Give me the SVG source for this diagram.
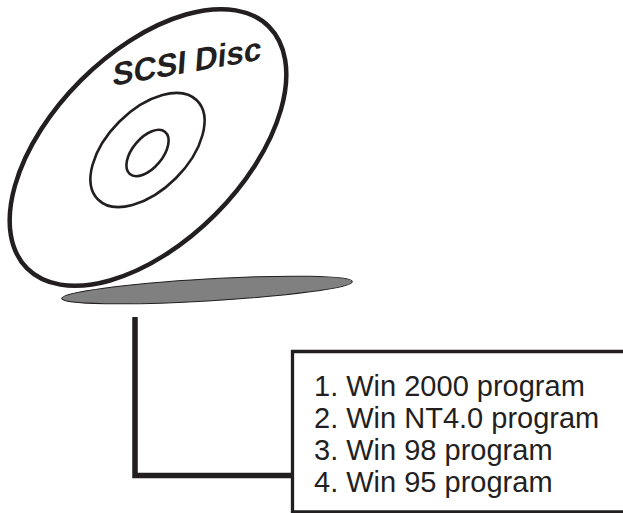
<svg xmlns="http://www.w3.org/2000/svg" width="623" height="513" viewBox="0 0 623 513">
  <style>
    .ink { fill: none; stroke: #231f20; }
    .label { font-family: "Liberation Sans", Arial, sans-serif; font-size: 29px; fill: #231f20; }
    .title { font-family: "Liberation Sans", Arial, sans-serif; font-size: 32px; font-weight: bold; fill: #231f20; }
  </style>
  <rect width="623" height="513" fill="#ffffff"/>

  <!-- shadow under the disc -->
  <g id="shadow">
    <ellipse cx="207" cy="290" rx="145.5" ry="11" transform="rotate(-3.3 207 290)" fill="#808080" stroke="#231f20" stroke-width="1"/>
  </g>

  <!-- the disc -->
  <g id="disc">
    <ellipse cx="148" cy="147.5" rx="171" ry="95" transform="rotate(-45 148 147.5)" fill="#ffffff" stroke="#231f20" stroke-width="4.5"/>
    <ellipse cx="147.5" cy="150" rx="70" ry="40" transform="rotate(-45 147.5 150)" class="ink" stroke-width="2.6"/>
    <ellipse cx="147.5" cy="153" rx="27.5" ry="15" transform="rotate(-50 147.5 153)" class="ink" stroke-width="2.6"/>
    <!-- slanted label on the disc face -->
    <g transform="translate(112 86) rotate(-10) skewX(-14)">
      <text class="title" x="0" y="0">SCSI Disc</text>
    </g>
  </g>

  <!-- connector from disc to list -->
  <g id="connectors">
    <path class="ink" d="M135 317 V475.5 H292.5" stroke-width="5.5" stroke-linecap="butt" stroke-linejoin="miter"/>
  </g>

  <!-- program list box -->
  <g id="program-list">
    <path class="ink" d="M626 351.5 H292.5 V512 H626" stroke-width="3.3"/>
    <text class="label" x="314" y="396">1. Win 2000 program</text>
    <text class="label" x="314" y="428">2. Win NT4.0 program</text>
    <text class="label" x="314" y="460">3. Win 98 program</text>
    <text class="label" x="314" y="492">4. Win 95 program</text>
  </g>
</svg>
